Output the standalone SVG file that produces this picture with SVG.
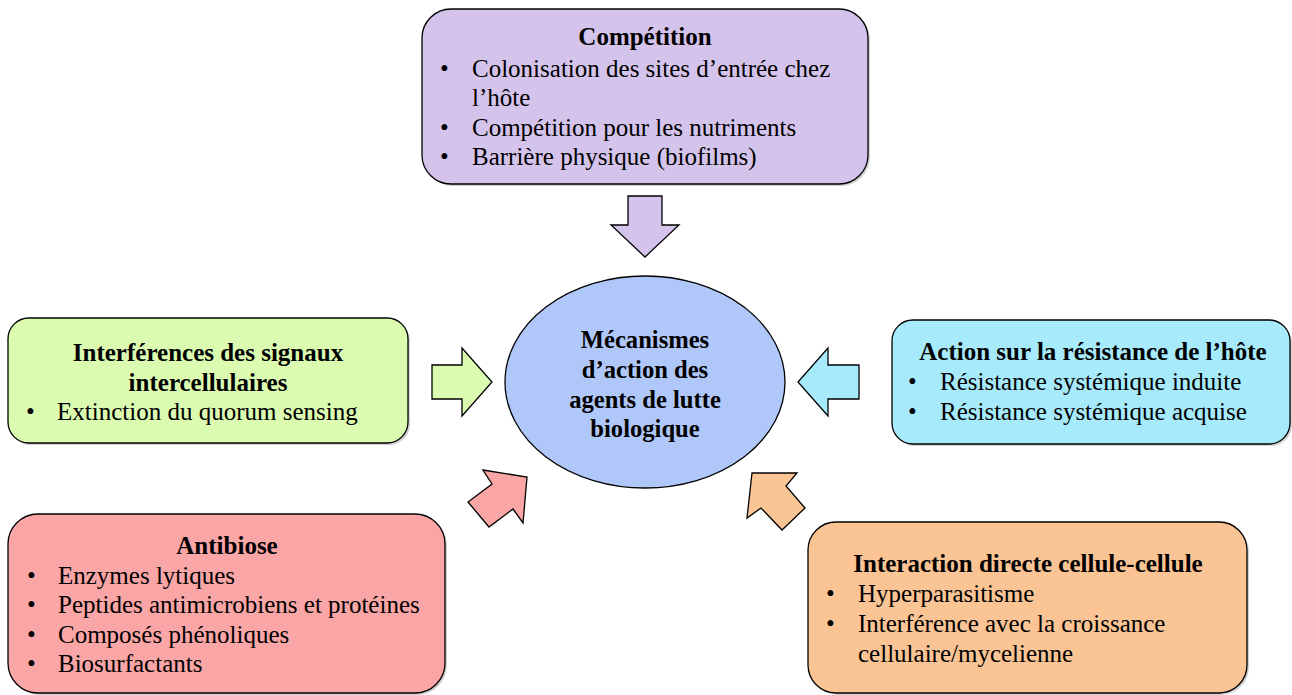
<svg xmlns="http://www.w3.org/2000/svg" width="1292" height="695" viewBox="0 0 1292 695">
<defs>
<style>
.box{stroke:#000;stroke-width:1.3}
.sh{fill:#8a8a8a;opacity:0.4}
.arr{stroke:#000;stroke-width:1.3;stroke-linejoin:miter}
text{font-family:"Liberation Serif","Times New Roman",serif;font-size:25px;fill:#000}
.t{font-weight:bold;text-anchor:middle}
.c{text-anchor:middle;font-weight:bold;font-size:24.6px}
</style>
</defs>
<rect width="1292" height="695" fill="#fff"/>

<g id="connectors">
<polygon class="arr" fill="#d4c4ec" points="628,196 662,196 662,225 679,225 645,257 611,225 628,225"/>
<polygon class="arr" fill="#dbfbb0" points="432,365 462,365 462,348 492,382 462,416 462,399 432,399"/>
<polygon class="arr" fill="#a6eafc" points="859,365 828,365 828,348 798,382 828,416 828,399 859,399"/>
<polygon class="arr" fill="#fba6a6" points="483,470 527,477 523,523 513,509 489,527 468,502 492,484"/>
<polygon class="arr" fill="#fbc494" points="752,473 797,473 786,486 805,508 782,530 761,508 747,518"/>
</g>

<g id="center">
<ellipse cx="645" cy="382" rx="140" ry="106" fill="#b0c8f9" stroke="#000" stroke-width="1.3"/>
<text class="c" x="645" y="348">Mécanismes</text>
<text class="c" x="645" y="378">d’action des</text>
<text class="c" x="645" y="408">agents de lutte</text>
<text class="c" x="645" y="437">biologique</text>
</g>

<g id="competition">
<rect class="sh" x="424" y="11" width="446" height="175" rx="29"/>
<rect class="box" x="422" y="9" width="446" height="175" rx="29" fill="#d4c4ec"/>
<text class="t" x="645" y="45">Compétition</text>
<text x="440" y="77">•</text><text x="472" y="77">Colonisation des sites d’entrée chez</text>
<text x="472" y="106">l’hôte</text>
<text x="440" y="136">•</text><text x="472" y="136">Compétition pour les nutriments</text>
<text x="440" y="165">•</text><text x="472" y="165">Barrière physique (biofilms)</text>
</g>

<g id="signaux">
<rect class="sh" x="10" y="320" width="400" height="125" rx="21"/>
<rect class="box" x="8" y="318" width="400" height="125" rx="21" fill="#dbfbb0"/>
<text class="t" x="208" y="361">Interférences des signaux</text>
<text class="t" x="208" y="391">intercellulaires</text>
<text x="26" y="420">•</text><text x="57" y="420">Extinction du quorum sensing</text>
</g>

<g id="resistance">
<rect class="sh" x="894" y="322" width="398" height="124" rx="21"/>
<rect class="box" x="892" y="320" width="398" height="124" rx="21" fill="#a6eafc"/>
<text class="t" x="1093" y="360">Action sur la résistance de l’hôte</text>
<text x="908" y="390">•</text><text x="940" y="390">Résistance systémique induite</text>
<text x="908" y="420">•</text><text x="940" y="420">Résistance systémique acquise</text>
</g>

<g id="antibiose">
<rect class="sh" x="10" y="516" width="437" height="179" rx="30"/>
<rect class="box" x="8" y="514" width="437" height="179" rx="30" fill="#fba6a6"/>
<text class="t" x="227" y="554">Antibiose</text>
<text x="27" y="584">•</text><text x="58" y="584">Enzymes lytiques</text>
<text x="27" y="613">•</text><text x="58" y="613">Peptides antimicrobiens et protéines</text>
<text x="27" y="643">•</text><text x="58" y="643">Composés phénoliques</text>
<text x="27" y="672">•</text><text x="58" y="672">Biosurfactants</text>
</g>

<g id="interaction">
<rect class="sh" x="810" y="524" width="439" height="171" rx="28"/>
<rect class="box" x="808" y="522" width="439" height="171" rx="28" fill="#fbc494"/>
<text class="t" x="1028" y="572">Interaction directe cellule-cellule</text>
<text x="826" y="602">•</text><text x="858" y="602">Hyperparasitisme</text>
<text x="826" y="632">•</text><text x="858" y="632">Interférence avec la croissance</text>
<text x="858" y="662">cellulaire/mycelienne</text>
</g>
</svg>
